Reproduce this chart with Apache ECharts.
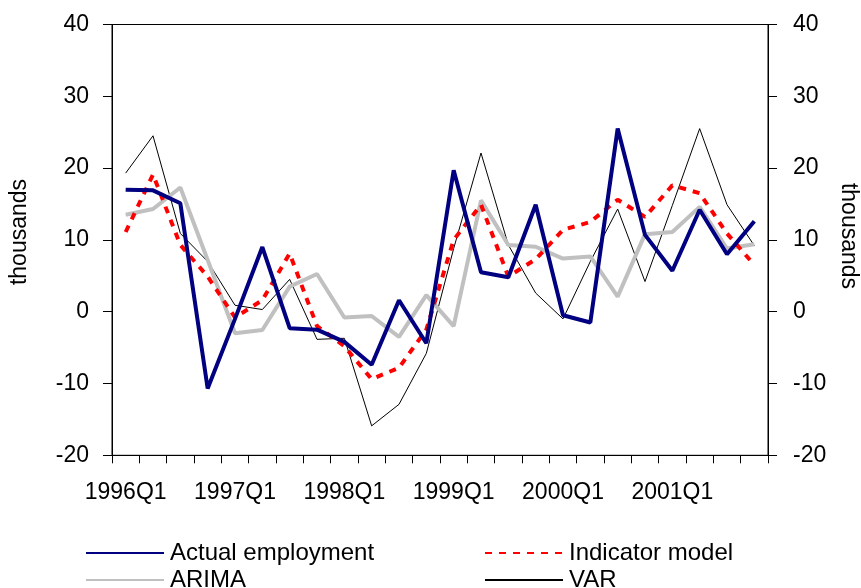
<!DOCTYPE html>
<html>
<head>
<meta charset="utf-8">
<script src="https://cdn.jsdelivr.net/npm/echarts@6/dist/echarts.min.js"></script>
<style>html,body{margin:0;padding:0;background:#fff}#c{width:861px;height:588px}</style>
</head>
<body>
<div id="c"></div>
<script>
var quarters = [];
var years = [1996, 1997, 1998, 1999, 2000, 2001];
years.forEach(function (y) { for (var q = 1; q <= 4; q++) quarters.push(y + 'Q' + q); });

var actual    = [17.0, 16.9, 15.1, -10.7, -1.0, 9.0, -2.3, -2.5, -4.2, -7.4, 1.6, -4.4, 19.7, 5.5, 4.8, 14.9, -0.5, -1.5, 25.5, 10.7, 5.7, 14.2, 8.0, 12.6];
var indicator = [11.1, 19.1, 9.3, 4.9, -0.8, 1.6, 8.1, -2.0, -4.8, -9.4, -7.8, -2.5, 10.0, 14.9, 4.9, 7.3, 11.4, 12.5, 15.6, 13.2, 17.6, 16.5, 10.9, 6.5];
var arima     = [13.5, 14.3, 17.3, 7.2, -3.0, -2.55, 3.5, 5.25, -0.8, -0.6, -3.5, 2.3, -2.0, 15.5, 9.3, 9.05, 7.4, 7.7, 2.1, 10.8, 11.1, 14.6, 8.8, 9.4];
var varModel  = [19.3, 24.5, 10.9, 7.0, 0.9, 0.3, 4.5, -3.85, -3.7, -15.9, -12.9, -5.8, 8.8, 22.1, 9.3, 2.6, -1.0, 7.0, 14.3, 4.2, 14.8, 25.5, 14.9, 9.2];
var yTicks = { min: -20, max: 40, interval: 10 };

var FONT = 'Liberation Sans, Arial, sans-serif';
var chart = echarts.init(document.getElementById('c'), null, { renderer: 'canvas' });

function yAx(pos, margin) {
  return {
    type: 'value', position: pos, min: yTicks.min, max: yTicks.max, interval: yTicks.interval,
    splitLine: { show: false },
    axisLine: { show: true, onZero: false, lineStyle: { color: '#000', width: 1 } },
    axisTick: { show: true, length: 9, lineStyle: { color: '#000' } },
    axisLabel: { margin: margin, color: '#000', fontSize: 23, fontFamily: FONT }
  };
}

function lg(name, left, top) {
  return {
    data: [name], left: left, top: top, orient: 'horizontal', padding: 0,
    itemWidth: 78, itemHeight: 14, itemGap: 0, selectedMode: false,
    itemStyle: { opacity: 0 },
    textStyle: { color: '#000', fontSize: 24, fontFamily: FONT, lineHeight: 24, padding: [0, 0, 0, 1] }
  };
}

chart.setOption({
  animation: false,
  backgroundColor: '#fff',
  grid: { left: 112, right: 93, top: 24.5, bottom: 132.7, show: true, borderColor: '#000', borderWidth: 1, backgroundColor: 'transparent' },
  xAxis: {
    type: 'category', data: quarters, boundaryGap: true,
    axisLine: { onZero: false, lineStyle: { color: '#000', width: 1 } },
    axisTick: { show: true, interval: 0, length: 8, lineStyle: { color: '#000' } },
    axisLabel: { interval: 3, margin: 26, color: '#000', fontSize: 23, fontFamily: FONT }
  },
  yAxis: [yAx('left', 23), yAx('right', 25)],
  legend: [
    lg('Actual employment', 85, 541),
    lg('Indicator model', 484, 541),
    lg('ARIMA', 85, 568),
    lg('VAR', 484, 568)
  ],
  graphic: [
    { type: 'text', x: 20, y: 232, rotation: Math.PI / 2,
      style: { text: 'thousands', fill: '#000', font: '23px ' + FONT, textAlign: 'center', textVerticalAlign: 'middle' } },
    { type: 'text', x: 848, y: 236, rotation: -Math.PI / 2,
      style: { text: 'thousands', fill: '#000', font: '23px ' + FONT, textAlign: 'center', textVerticalAlign: 'middle' } }
  ],
  series: [
    { name: 'VAR', type: 'line', data: varModel, symbol: 'none', z: 1,
      lineStyle: { color: '#000', width: 1 }, itemStyle: { color: '#000' } },
    { name: 'ARIMA', type: 'line', data: arima, symbol: 'none', z: 2,
      lineStyle: { color: '#c0c0c0', width: 4 }, itemStyle: { color: '#c0c0c0' } },
    { name: 'Indicator model', type: 'line', data: indicator, symbol: 'none', z: 3,
      lineStyle: { color: '#ff0000', width: 4, type: [7, 7] }, itemStyle: { color: '#ff0000' } },
    { name: 'Actual employment', type: 'line', data: actual, symbol: 'none', z: 4,
      lineStyle: { color: '#000080', width: 4 }, itemStyle: { color: '#000080' } }
  ]
});
</script>
</body>
</html>
